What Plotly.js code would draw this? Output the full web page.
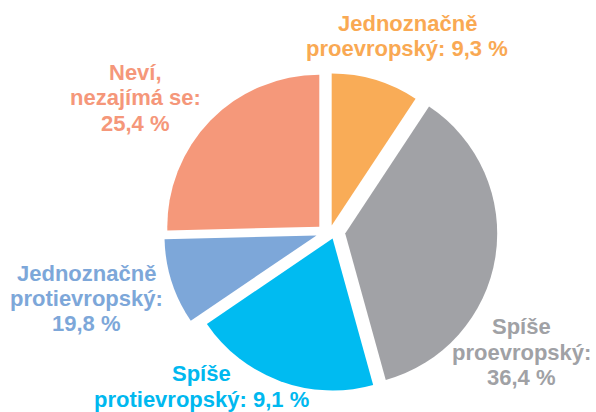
<!DOCTYPE html>
<html>
<head>
<meta charset="utf-8">
<script src="https://cdn.plot.ly/plotly-3.0.1.min.js"></script>
<style>html,body{margin:0;padding:0;background:#fff;}#chart{width:596px;height:412px;}</style>
</head>
<body>
<div id="chart"></div>
<script>
// ---- data ----
const sliceNames = ['Jednoznačně proevropský', 'Spíše proevropský', 'Spíše protievropský', 'Jednoznačně protievropský', 'Neví, nezajímá se'];
const sliceValues = [9.3, 36.4, 19.8, 9.1, 25.4];
const labelPercents = [9.3, 36.4, 9.1, 19.8, 25.4];
const labelLines = [
  ['Jednoznačně', 'proevropský: {p} %'],
  ['Spíše', 'proevropský:', '{p} %'],
  ['Spíše', 'protievropský: {p} %'],
  ['Jednoznačně', 'protievropský:', '{p} %'],
  ['Neví,', 'nezajímá se:', '{p} %']
];

// ---- style / layout ----
const W = 596, H = 412, R = 152;
const colors = ['#F9AC57', '#A1A2A6', '#00BBF1', '#7DA7D9', '#F5987A'];
const textColors = ['#F9A953', '#A0A1A5', '#00B8EF', '#7DA7D9', '#F5977A'];
// apex position of each exploded slice (px)
const apex = [[331.7, 225.5], [345.2, 233.4], [332.6, 238.5], [316.5, 235.4], [319.3, 226.7]];
// label block: centre x, first baseline y (px)
const labelPos = [[407, 30.7], [521, 334.3], [201, 381.3], [86, 280.7], [135, 80]];
const lineStep = 25.4;
const fontFamily = 'Liberation Sans, Arial, sans-serif';
const fontSize = 22;

const traces = sliceNames.map((name, i) => ({
  type: 'pie',
  labels: sliceNames,
  values: sliceValues,
  sort: false,
  direction: 'clockwise',
  rotation: 0,
  textinfo: 'none',
  hoverinfo: 'skip',
  showlegend: false,
  marker: {
    colors: sliceValues.map((v, j) => j === i ? colors[i] : 'rgba(0,0,0,0)'),
    line: { width: 0 }
  },
  domain: {
    x: [(apex[i][0] - R) / W, (apex[i][0] + R) / W],
    y: [1 - (apex[i][1] + R) / H, 1 - (apex[i][1] - R) / H]
  }
}));

const fmt = v => v.toFixed(1).replace('.', ',');
const annotations = [];
labelLines.forEach((lines, i) => {
  lines.forEach((ln, k) => {
    const base = labelPos[i][1] + k * lineStep;
    annotations.push({
      xref: 'paper', yref: 'paper',
      x: labelPos[i][0] / W,
      y: 1 - (base - 7.6) / H,
      xanchor: 'center', yanchor: 'middle',
      showarrow: false,
      text: '<b>' + ln.replace('{p}', fmt(labelPercents[i])) + '</b>',
      font: { family: fontFamily, size: fontSize, color: textColors[i] }
    });
  });
});

const layout = {
  width: W, height: H,
  margin: { l: 0, r: 0, t: 0, b: 0, pad: 0 },
  paper_bgcolor: '#ffffff',
  plot_bgcolor: '#ffffff',
  showlegend: false,
  annotations: annotations
};

Plotly.newPlot('chart', traces, layout, { displayModeBar: false, staticPlot: true });
</script>
</body>
</html>
